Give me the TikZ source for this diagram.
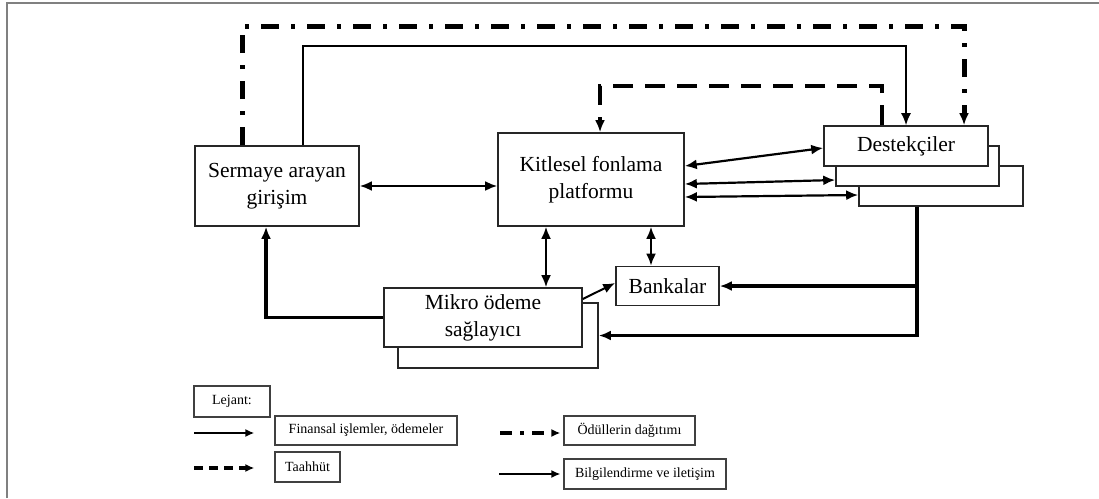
\documentclass[tikz,border=0pt]{standalone}
\usepackage{fontspec}
\setmainfont{Liberation Serif}
\usetikzlibrary{arrows.meta}
\usetikzlibrary{positioning}
\usetikzlibrary{calc}

\begin{document}
\begin{tikzpicture}[
    x=1pt, y=-1pt,
    >={Latex[length=12pt,width=10pt]},
    every node/.style={font=\fontsize{21.5}{27}\selectfont, inner sep=0pt},
    box/.style={draw=black!85, line width=1.6pt, fill=white, align=center},
    legbox/.style={draw=black!75, line width=1.2pt, fill=white, font=\fontsize{14}{16}\selectfont},
    fin/.style={->, line width=3.2pt},
    info/.style={->, line width=1.6pt},
    both/.style={<->, line width=2.2pt},
    reward/.style={->, line width=5pt, dash pattern=on 18pt off 12pt on 4pt off 12pt},
    pledge/.style={->, line width=4.5pt, dash pattern=on 20pt off 12pt}
]
\useasboundingbox (0,0) rectangle (1099,498);
\draw[black!50, line width=2pt] (7,498) -- (7,3) -- (1099,3);

% actors
\node[box, minimum width=164pt, minimum height=80pt] (serm) at (277,186) {Sermaye arayan\\girişim};
\node[box, minimum width=186pt, minimum height=93pt] (kit) at (591,179.5) {Kitlesel fonlama\\platformu};
\node[box, minimum width=164pt, minimum height=40pt] (dest3) at (941,186) {};
\node[box, minimum width=163pt, minimum height=40pt] (dest2) at (917.5,166) {};
\node[box, minimum width=164pt, minimum height=40pt] (dest) at (906,146) {Destekçiler};
\node[box, minimum width=200pt, minimum height=65pt] (mik2) at (498,335.5) {};
\node[box, minimum width=198pt, minimum height=59pt] (mik) at (483,317.5) {Mikro ödeme\\sağlayıcı};
\node[box, minimum width=103pt, minimum height=39pt] (bank) at (667.5,286) {Bankalar};

% flows
\draw[both] (serm.east) -- (serm.east -| kit.west);
\draw[both] ([yshift=13.5pt]kit.east) -- ([yshift=-2pt]dest.west);
\draw[both] ([yshift=-4.5pt]kit.east) -- ([yshift=-14pt]dest2.west);
\draw[both] ([yshift=-17.5pt]kit.east) -- ([yshift=-9pt]dest3.west);
\draw[both] ([xshift=-45pt]kit.south) -- ([xshift=-45pt]kit.south |- mik.north);
\draw[both] ([xshift=60pt]kit.south) -- ([xshift=60pt]kit.south |- bank.north);
\draw[->, line width=2pt] ([yshift=18.5pt]mik.east) -- ([yshift=3pt]bank.west);
\draw[fin] (mik.west) -| ([xshift=-11pt]serm.south);
\draw[fin] ([xshift=-24pt]dest3.south) |- (mik2.east);
\coordinate (split) at ([xshift=-24pt]dest3.south |- bank.east);
\draw[fin] (split) -- (bank.east);
\draw[reward] ([xshift=-35pt]serm.north) -- ++(0,-119) -| ([xshift=58pt]dest.north);
\draw[info] ([xshift=26pt]serm.north) -- ++(0,-99) -| (dest.north);
\draw[pledge] ([xshift=-24pt]dest.north) -- ++(0,-39) -| ([xshift=9pt]kit.north);

% legend
\node[legbox, minimum width=76pt, minimum height=31pt] (lej) at (232,401.5) {Lejant:};
\node[legbox, minimum width=182pt, minimum height=29pt] (fintxt) at (366,430.5) {Finansal işlemler, ödemeler};
\node[legbox, minimum width=65pt, minimum height=30pt] (taatxt) at (307.5,467) {Taahhüt};
\node[legbox, minimum width=131pt, minimum height=29pt] (odultxt) at (629.5,430.5) {Ödüllerin dağıtımı};
\node[legbox, minimum width=162pt, minimum height=30pt] (bilgtxt) at (645,474) {Bilgilendirme ve iletişim};
\draw[fin, line width=2.4pt, -{Latex[length=9pt,width=8pt]}] ([xshift=-80pt,yshift=-2.5pt]fintxt.west) -- ([xshift=-20pt,yshift=-2.5pt]fintxt.west);
\draw[pledge, line width=3.2pt, dash pattern=on 9pt off 6pt, -{Latex[length=9pt,width=8pt]}] ([xshift=-80pt,yshift=-1pt]taatxt.west) -- ([xshift=-20pt,yshift=-1pt]taatxt.west);
\draw[reward, line width=4pt, dash pattern=on 12pt off 8pt on 4pt off 8pt, -{Latex[length=9pt,width=8pt]}] ([xshift=-63pt,yshift=-2.5pt]odultxt.west) -- ([xshift=-3pt,yshift=-2.5pt]odultxt.west);
\draw[info, -{Latex[length=9pt,width=8pt]}] ([xshift=-64pt]bilgtxt.west) -- ([xshift=-3pt]bilgtxt.west);
\end{tikzpicture}
\end{document}
